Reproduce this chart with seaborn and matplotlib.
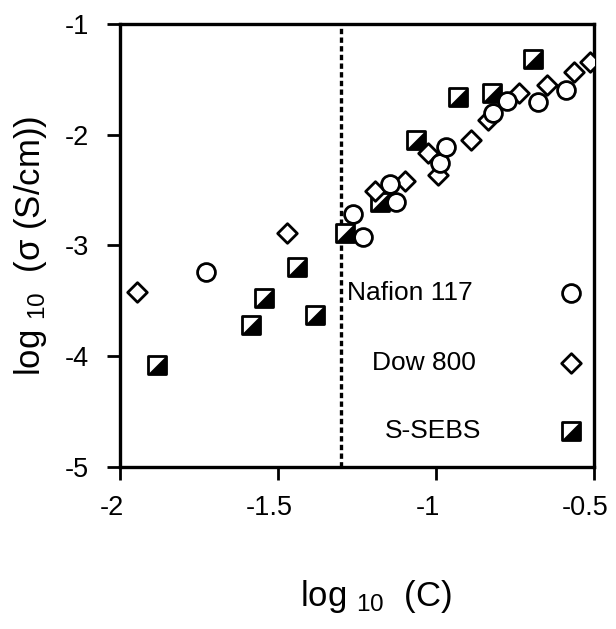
import numpy as np
import pandas as pd
import matplotlib
matplotlib.use("Agg")
import matplotlib.pyplot as plt
from matplotlib.path import Path
from matplotlib.transforms import ScaledTranslation
import seaborn as sns

# values
nafion_x = [-1.728, -1.264, -1.232, -1.146, -1.127, -0.987, -0.969, -0.819, -0.776, -0.676, -0.587]
nafion_y = [-3.236, -2.716, -2.920, -2.448, -2.604, -2.258, -2.108, -1.807, -1.695, -1.701, -1.596]

dow_x = [-1.947, -1.472, -1.193, -1.098, -1.026, -0.993, -0.889, -0.834, -0.737, -0.648, -0.563, -0.513]
dow_y = [-3.417, -2.884, -2.508, -2.415, -2.168, -2.364, -2.047, -1.867, -1.620, -1.551, -1.431, -1.340]

sebs_x = [-1.884, -1.585, -1.543, -1.439, -1.383, -1.288, -1.177, -1.064, -0.931, -0.824, -0.694]
sebs_y = [-4.080, -3.718, -3.471, -3.197, -3.627, -2.884, -2.604, -2.047, -1.656, -1.626, -1.319]

labels = ["Nafion 117", "Dow 800", "S-SEBS"]
x_ticks = [-2, -1.5, -1, -0.5]
x_tick_labels = ["-2", "-1.5", "-1", "-0.5"]
y_ticks = [-5, -4, -3, -2, -1]
threshold_x = -1.3

sns.set_style("ticks")
plt.rcParams.update({
    "font.family": ["Liberation Sans", "DejaVu Sans"],
    "mathtext.fontset": "custom",
    "mathtext.rm": "Liberation Sans",
    "mathtext.it": "Liberation Sans",
    "axes.unicode_minus": False,
    "axes.linewidth": 2.4,
    "xtick.major.width": 2.0,
    "ytick.major.width": 2.0,
    "xtick.major.size": 9.5,
    "ytick.major.size": 9.5,
    "text.color": "black",
    "axes.labelcolor": "black",
    "xtick.color": "black",
    "ytick.color": "black",
    "xtick.labelcolor": "black",
    "ytick.labelcolor": "black",
    "axes.edgecolor": "black",
})

nafion = pd.DataFrame({"x": nafion_x, "y": nafion_y})
dow = pd.DataFrame({"x": dow_x, "y": dow_y})
sebs = pd.DataFrame({"x": sebs_x, "y": sebs_y})

# lower-right half of a square, filled black
half_sq = Path([(-1, -1), (1, -1), (1, 1), (-1, -1)],
               [Path.MOVETO, Path.LINETO, Path.LINETO, Path.CLOSEPOLY])

fig = plt.figure(figsize=(6.16, 6.29), dpi=100)
ax = fig.add_axes([0.195, 0.2576, 0.769, 0.7042])

ax.axvline(threshold_x, color="black", lw=2.4, ls=(0, (1.6, 1.0)), zorder=1)

sq_kw = dict(s=160, marker="s", facecolor="white", edgecolor="black", linewidth=2.0)
half_kw = dict(s=160, marker=half_sq, color="black", edgecolor="black", linewidth=0.5)
dia_kw = dict(s=100, marker="D", facecolor="white", edgecolor="black", linewidth=2.0)
cir_kw = dict(s=165, marker="o", facecolor="white", edgecolor="black", linewidth=2.0)

sns.scatterplot(data=sebs, x="x", y="y", ax=ax, zorder=2, **sq_kw)
sns.scatterplot(data=sebs, x="x", y="y", ax=ax, zorder=2.1, **half_kw)
sns.scatterplot(data=dow, x="x", y="y", ax=ax, zorder=3, **dia_kw)
sns.scatterplot(data=nafion, x="x", y="y", ax=ax, zorder=4, **cir_kw)

# legend: text on the left, symbol on the right
leg_text_x = [0.479, 0.532, 0.559]
leg_y = [0.393, 0.235, 0.081]
leg_mark_x = 0.952
for lab, tx, ty in zip(labels, leg_text_x, leg_y):
    ax.text(tx, ty, lab, transform=ax.transAxes, fontsize=19, color="black",
            va="center", ha="left")
ax.scatter([leg_mark_x], [leg_y[0]], transform=ax.transAxes, clip_on=False, **cir_kw)
ax.scatter([leg_mark_x], [leg_y[1]], transform=ax.transAxes, clip_on=False, **dia_kw)
ax.scatter([leg_mark_x], [leg_y[2]], transform=ax.transAxes, clip_on=False, **sq_kw)
ax.scatter([leg_mark_x], [leg_y[2]], transform=ax.transAxes, clip_on=False, **half_kw)

ax.set_xlim(-2, -0.5)
ax.set_ylim(-5, -1)
ax.set_xticks(x_ticks)
ax.set_xticklabels(x_tick_labels)
ax.set_yticks(y_ticks)
ax.tick_params(axis="x", labelsize=19.5, pad=11)
ax.tick_params(axis="y", labelsize=19.5, pad=13)
shift = ScaledTranslation(-6 / 72, 0, fig.dpi_scale_trans)
for lbl in ax.get_xticklabels():
    lbl.set_transform(lbl.get_transform() + shift)

ax.set_xlabel(r"log $_{10}$  (C)", fontsize=25, color="black")
ax.set_ylabel(r"log $_{10}$  (σ (S/cm))", fontsize=25, color="black")
ax.xaxis.set_label_coords(0.54, -0.25)
ax.yaxis.set_label_coords(-0.15, 0.5)

fig.savefig("out.png", dpi=100)
